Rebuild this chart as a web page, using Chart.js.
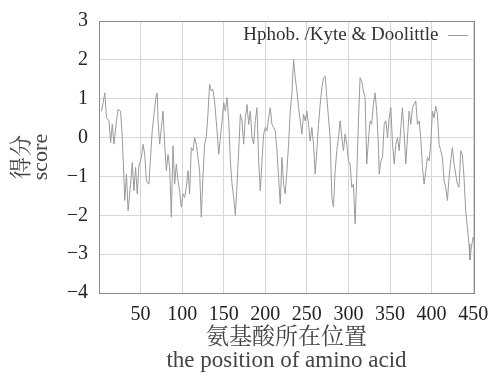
<!DOCTYPE html>
<html>
<head>
<meta charset="utf-8">
<script src="https://cdn.jsdelivr.net/npm/chart.js@4/dist/chart.umd.min.js"></script>
<style>
  html, body { margin: 0; padding: 0; background: #fff; }
  #wrap { width: 489px; height: 385px; position: relative; }
</style>
</head>
<body>
<div id="wrap"><canvas id="c"></canvas></div>
<script>
// residue positions and Kyte & Doolittle scores
const positions = [
  3, 5, 7, 9, 12, 14, 16, 18, 21, 23, 26, 28, 31, 33, 35, 38, 40, 42, 44, 46,
  48, 51, 53, 55, 57, 60, 62, 64, 67, 69, 70, 71, 73, 75, 77, 79, 81, 83, 85, 87,
  89, 91, 93, 95, 97, 99, 101, 103, 105, 107, 109, 111, 113, 115, 117, 119, 121, 123, 125, 127,
  129, 131, 133, 135, 137, 139, 142, 144, 146, 148, 150, 152, 154, 156, 158, 160, 162, 164, 166, 168,
  170, 172, 174, 176, 178, 180, 182, 184, 186, 188, 190, 192, 194, 196, 198, 200, 202, 204, 206, 208,
  210, 212, 214, 216, 218, 220, 222, 224, 226, 228, 230, 232, 234, 236, 238, 240, 242, 244, 246, 248,
  250, 252, 254, 256, 258, 260, 262, 264, 266, 268, 270, 272, 274, 276, 278, 280, 282, 284, 286, 288,
  290, 292, 294, 296, 298, 300, 302, 304, 306, 308, 310, 312, 314, 316, 318, 320, 322, 324, 326, 328,
  330, 332, 334, 336, 337, 339, 341, 343, 345, 347, 349, 351, 353, 355, 357, 359, 361, 363, 365, 367,
  369, 371, 373, 375, 377, 379, 381, 383, 385, 387, 389, 391, 393, 395, 397, 399, 401, 403, 405, 407,
  409, 411, 413, 415, 417, 419, 421, 423, 425, 427, 429, 431, 433, 435, 437, 439, 441, 443, 445, 446,
  448, 450, 451
];
const scores = [
  0.68, 0.9, 1.15, 0.51, 0.43, -0.13, 0.34, -0.17, 0.43, 0.73, 0.68, 0, -1.62, -0.94, -1.88, -1.2, -0.64, -1.37, -0.77, -1.45,
  -0.73, -0.51, -0.17, -0.43, -1.11, -1.2, -0.51, 0.17, 0.77, 1.11, 1.15, 0.43, -0.17, 0.26, 0.68, -0.17, -0.85, -0.43, -0.77, -2.05,
  -0.21, -1.2, -0.68, -1.11, -1.37, -1.79, -1.45, -1.54, -1.28, -0.85, -1.45, -0.26, -0.34, 0, -0.17, -0.51, -0.85, -2.05, -1.03, -0.17,
  0, 0.6, 1.37, 1.2, 1.24, 0.94, 0.17, -0.43, 0, 0.43, 0.9, 0.68, 1.03, 0.43, -0.6, -1.2, -1.54, -2.0, -1.2, -0.34,
  0.6, 0.43, -0.17, 0.51, 0.85, 0.34, 0.68, 0, -0.17, 0.43, 0.77, -0.6, -1.37, -0.6, 0.09, 0.26, 0.17, 0.51, 0.77, 0.34,
  0.26, 0.17, -0.34, -1.03, -1.71, -0.51, -1.2, -1.45, -0.85, -0.17, 0.68, 1.11, 2.01, 1.54, 1.2, 0.77, 0.43, 0.09, 0.6, 0.43,
  0.68, 0.34, -0.09, 0.26, -0.17, -0.94, -0.34, 0.34, 0.85, 1.28, 1.54, 1.58, 1.03, 0.51, 0, -1.54, -1.79, -0.85, -0.34, 0,
  0.43, 0, -0.34, 0.09, -0.17, -0.6, -0.68, -1.28, -1.2, -2.22, -1.0, 0.43, 1.54, 1.45, 1.2, 1.03, -0.68, -0.09, 0.43, 0.34,
  0.85, 1.15, 0.68, -0.17, -0.94, -0.6, -0.51, 0.34, 0.43, 0, 0.51, 0.77, -0.17, -0.68, -0.17, 0, -0.34, 0.26, 0.77, 0.09,
  -0.68, 0, 0.68, 0.34, 0.77, 0.85, 0.94, 0.34, 0.43, 0, -0.77, -1.2, -0.85, -0.51, -0.6, -0.17, 0.68, 0.51, 0.81, 0.6,
  -0.17, -0.34, -0.51, -1.11, -1.28, -1.62, -1.03, -0.6, -0.26, -0.68, -0.94, -1.2, -1.28, -0.34, -0.43, -1.03, -1.88, -2.31, -2.74, -3.15,
  -2.8, -2.56, -2.65
];
const xTickValues = [50, 100, 150, 200, 250, 300, 350, 400, 450];
const yTickValues = [-4, -3, -2, -1, 0, 1, 2, 3];
const seriesLabel = 'Hphob. /Kyte & Doolittle';
const yTitle = ['得分', 'score'];
const xTitle = ['氨基酸所在位置', 'the position of amino acid'];

const serif = "'Liberation Serif', 'Noto Serif CJK SC', 'Noto Sans CJK SC', serif";

const frame = {
  id: 'frame',
  afterLayout(chart) {
    // legend sits inside the plot, top right corner
    const l = chart.legend, a = chart.chartArea;
    const h = l.height;
    l.left = a.right - l.width - 2;
    l.right = a.right - 2;
    l.top = a.top + 1;
    l.bottom = a.top + 1 + h;
  },
  afterDatasetsDraw(chart) {
    // box round the plot area (top and right edges too)
    const a = chart.chartArea, ctx = chart.ctx;
    ctx.save();
    ctx.strokeStyle = '#8a8a8a';
    ctx.lineWidth = 1;
    ctx.strokeRect(Math.round(a.left) + 0.5, Math.round(a.top) + 0.5, Math.round(a.right - a.left), Math.round(a.bottom - a.top));
    ctx.restore();
  }
};

new Chart(document.getElementById('c'), {
  type: 'line',
  data: {
    datasets: [{
      label: seriesLabel,
      data: positions.map((p, i) => ({ x: p, y: scores[i] })),
      borderColor: '#9a9a9a',
      backgroundColor: '#9a9a9a',
      borderWidth: 1,
      pointRadius: 0,
      tension: 0
    }]
  },
  options: {
    responsive: true,
    maintainAspectRatio: false,
    animation: false,
    layout: { padding: { top: 21, right: 15, left: 0, bottom: 0 } },
    plugins: {
      tooltip: { enabled: false },
      legend: {
        position: 'chartArea',
        align: 'start',
        rtl: true,
        labels: {
          usePointStyle: true,
          pointStyle: 'line',
          pointStyleWidth: 20,
          padding: 4,
          color: '#333',
          font: { family: serif, size: 19 }
        }
      }
    },
    scales: {
      x: {
        type: 'linear',
        min: 0,
        max: 451,
        grid: { color: '#d6d6d6', drawTicks: false },
        border: { color: '#8a8a8a' },
        afterBuildTicks: s => { s.ticks = xTickValues.map(v => ({ value: v })); },
        ticks: {
          maxRotation: 0,
          autoSkip: false,
          padding: 10,
          color: '#222',
          font: { family: serif, size: 20 }
        },
        title: {
          display: true,
          text: xTitle,
          color: '#444',
          font: { family: serif, size: 23, lineHeight: 1.0 },
          padding: { top: 0, bottom: 13 }
        },
        afterFit: s => { s.height = 92; s.paddingLeft = 0; s.paddingRight = 0; }
      },
      y: {
        min: -4,
        max: 3,
        grid: { color: '#d6d6d6', drawTicks: false },
        border: { color: '#8a8a8a' },
        afterBuildTicks: s => { s.ticks = yTickValues.map(v => ({ value: v })); },
        ticks: {
          padding: 11,
          color: '#222',
          font: { family: serif, size: 20 },
          callback: v => String(v).replace('-', '\u2212')
        },
        title: {
          display: true,
          text: yTitle,
          color: '#444',
          font: { family: serif, size: 22, lineHeight: 0.9 },
          padding: { top: 12, bottom: 0 }
        },
        afterFit: s => { s.width = 99; s.paddingTop = 0; s.paddingBottom = 0; }
      }
    }
  },
  plugins: [frame]
});
</script>
</body>
</html>
